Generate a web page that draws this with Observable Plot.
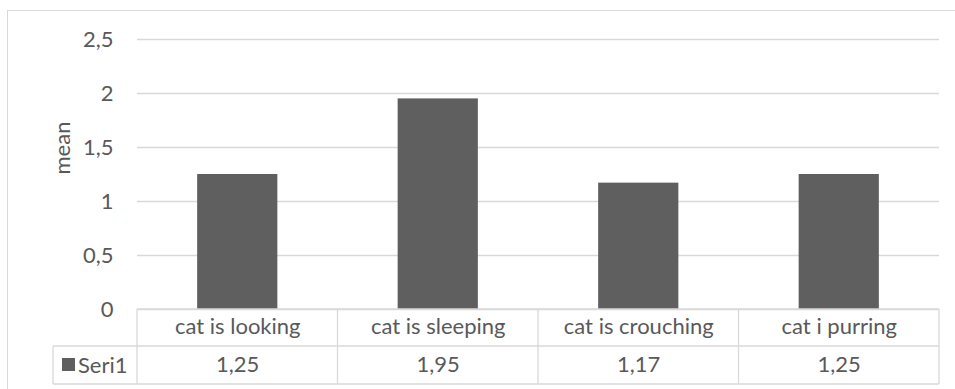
<!DOCTYPE html>
<html>
<head>
<meta charset="utf-8">
<script src="https://cdn.jsdelivr.net/npm/d3@7"></script>
<script src="https://cdn.jsdelivr.net/npm/@observablehq/plot@0.6"></script>
<style>
  body { margin: 0; background: #fff; }
  #chart { position: relative; width: 955px; height: 389px; }
</style>
</head>
<body>
<div id="chart"></div>
<script>
// Chart data
const categories = ["cat is looking", "cat is sleeping", "cat is crouching", "cat i purring"];
const means = [1.25, 1.95, 1.17, 1.25];
const seriesName = "Seri1";
const yLabel = "mean";
const yTicks = [0, 0.5, 1, 1.5, 2, 2.5];

const data = categories.map((category, i) => ({category, mean: means[i]}));

// Decimal comma formatting
const locale = d3.formatLocale({decimal: ",", thousands: ".", grouping: [3], currency: ["", ""]});
const fmtTick = locale.format("~g");
const fmtValue = locale.format(".2f");

const barColor = "#5f5f5f";
const lineColor = "#d9d9d9";
const textColor = "#595959";
const fontSize = 22;
const fontFamily = "Lato, 'Open Sans', sans-serif";

// Data table under the plot area: column borders follow the x band scale
function dataTable(index, scales, values, dims) {
  const x = scales.x;
  const step = x.step(), bw = x.bandwidth();
  const edges = categories.map(c => x(c) - (step - bw) / 2);
  edges.push(edges[edges.length - 1] + step);
  const left = edges[0], right = edges[edges.length - 1];
  const top = dims.height - dims.marginBottom;
  const row1 = top + 37, row2 = top + 75;
  const headerLeft = 53;

  const g = d3.create("svg:g");
  // outer chart border
  g.append("rect")
    .attr("x", 7.5).attr("y", 10.5)
    .attr("width", dims.width + 10).attr("height", dims.height + 10)
    .attr("fill", "none").attr("stroke", lineColor);

  const lines = g.append("g").attr("stroke", lineColor).attr("stroke-width", 1.3).attr("fill", "none");
  const hline = (x1, x2, y) => lines.append("line").attr("x1", x1).attr("x2", x2).attr("y1", y).attr("y2", y);
  const vline = (xv, y1, y2) => lines.append("line").attr("x1", xv).attr("x2", xv).attr("y1", y1).attr("y2", y2);
  hline(left, right, top);
  hline(headerLeft, right, row1);
  hline(headerLeft, right, row2);
  for (const e of edges) vline(e, top, row2);
  vline(headerLeft, row1, row2);

  // series legend cell
  const mid = (row1 + row2) / 2;
  g.append("rect")
    .attr("x", headerLeft + 9).attr("y", mid - 7)
    .attr("width", 13).attr("height", 13).attr("fill", barColor);
  g.append("text")
    .attr("x", headerLeft + 25).attr("y", mid)
    .attr("dy", "0.35em")
    .attr("text-anchor", "start")
    .attr("fill", textColor)
    .attr("font-family", fontFamily)
    .attr("font-size", fontSize)
    .text(seriesName);
  return g.node();
}

const chart = Plot.plot({
  width: 955,
  height: 389,
  marginLeft: 137,
  marginRight: 16,
  marginTop: 39,
  marginBottom: 80,
  style: {fontFamily, fontSize: `${fontSize}px`, color: textColor, background: "white", overflow: "visible"},
  x: {domain: categories, paddingInner: 0.6, paddingOuter: 0.3, round: false, axis: null},
  y: {domain: [0, 2.5], ticks: yTicks},
  marks: [
    Plot.gridY(yTicks, {stroke: lineColor, strokeOpacity: 1, strokeWidth: 1.3}),
    Plot.barY(data, {x: "category", y: "mean", fill: barColor}),
    Plot.axisY(yTicks, {
      tickSize: 0,
      tickPadding: 24,
      tickFormat: fmtTick,
      fontSize,
      fill: textColor,
      label: null
    }),
    Plot.text([yLabel], {text: d => d, frameAnchor: "left", rotate: -90, dx: -75, fill: textColor, fontSize}),
    dataTable,
    Plot.text(data, {x: "category", text: "category", frameAnchor: "bottom", lineAnchor: "middle", dy: 17, fill: textColor, fontSize}),
    Plot.text(data, {x: "category", text: d => fmtValue(d.mean), frameAnchor: "bottom", lineAnchor: "middle", dy: 55, fill: textColor, fontSize})
  ]
});

document.getElementById("chart").append(chart);
</script>
</body>
</html>
